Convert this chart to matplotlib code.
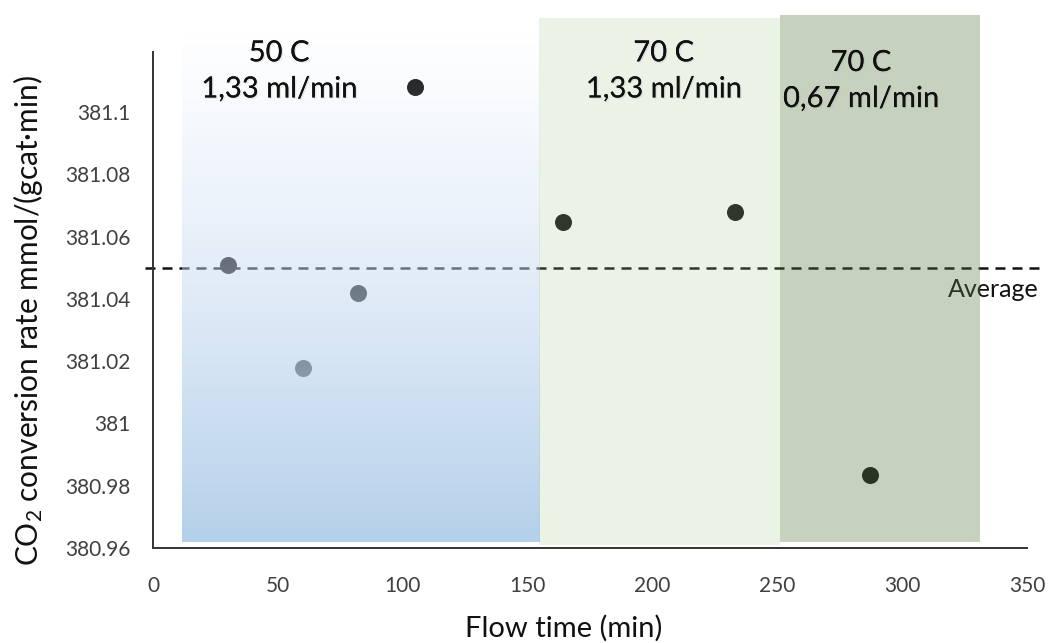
import numpy as np
import matplotlib.pyplot as plt
import matplotlib.patheffects as pe
from matplotlib.patches import Rectangle

plt.rcParams['font.family'] = ['Lato', 'DejaVu Sans']
plt.rcParams['mathtext.default'] = 'regular'

# measurements
flow_time = [30, 60, 82, 105, 164, 233, 287]
conv_rate = [381.0509, 381.0177, 381.0420, 381.1081, 381.0646, 381.0679, 380.9833]
average = 381.05

# experimental conditions (label, x start, x end)
stages = [
    ("50 C\n1,33 ml/min", 11.7, 154.7),
    ("70 C\n1,33 ml/min", 154.7, 251.0),
    ("70 C\n0,67 ml/min", 251.0, 331.2),
]
yticks = [380.96, 380.98, 381.0, 381.02, 381.04, 381.06, 381.08, 381.1]
ytick_labels = ["380.96", "380.98", "381", "381.02", "381.04", "381.06", "381.08", "381.1"]

fig = plt.figure(figsize=(10.49, 6.43), dpi=100)
ax = fig.add_axes([0.1459, 0.1477, 0.979 - 0.1459, 0.919 - 0.1477])
ax.set_xlim(0, 350)
ax.set_ylim(380.96, 381.1193)

ax.scatter(flow_time, conv_rate, s=150, color='#111111', zorder=2, linewidths=0)
ax.plot([-3.2, 357], [average, average], ls=(0, (4, 2.8)), lw=1.8, color='#111111',
        zorder=2, clip_on=False)
ax.text(354.5, average - 0.0068, "Average", ha='right', va='center', fontsize=18,
        color='#111111', zorder=2, clip_on=False)

# blue stage: vertical gradient, translucent at the top, opaque at the bottom
x0, x1 = stages[0][1], stages[0][2]
y0, y1 = 380.9618, 381.1273
n = 256
t = np.linspace(0, 1, n)[:, None]          # 0 = top, 1 = bottom
top_c = np.array([215, 228, 248]) / 255
bot_c = np.array([180, 208, 234]) / 255
rgba = np.zeros((n, 1, 4))
rgba[:, 0, :3] = top_c + (bot_c - top_c) * t
rgba[:, 0, 3] = t[:, 0] ** 0.95
ax.imshow(rgba, extent=[x0, x1, y0, y1], origin='upper', aspect='auto',
          interpolation='bilinear', zorder=3, clip_on=False)

# green stages: flat translucent overlays
ax.add_patch(Rectangle((stages[1][1], 380.9610), stages[1][2] - stages[1][1],
                       381.1303 - 380.9610, facecolor='#a2c88f', alpha=0.21,
                       lw=0, zorder=3, clip_on=False))
ax.add_patch(Rectangle((stages[2][1], 380.9620), stages[2][2] - stages[2][1],
                       381.1312 - 380.9620, facecolor='#587b43', alpha=0.34,
                       lw=0, zorder=3, clip_on=False))

shadow = [pe.withSimplePatchShadow(offset=(1, -1), shadow_rgbFace='#999999', alpha=0.2),
          pe.Normal()]
label_x = [50.5, 204.5, 283.5]
label_y = [381.1131, 381.1131, 381.1100]
for (lbl, _, _), lx, ly in zip(stages, label_x, label_y):
    ax.text(lx, ly, lbl, ha='center', va='center', fontsize=21, color='#111111',
            linespacing=1.48, zorder=4, clip_on=False, path_effects=shadow)

ax.set_xticks(np.arange(0, 351, 50))
ax.set_yticks(yticks)
ax.set_yticklabels(ytick_labels)
ax.tick_params(length=0, labelsize=15, colors='#404040')
ax.tick_params(axis='y', pad=16)
ax.tick_params(axis='x', pad=20)

for side in ['top', 'right']:
    ax.spines[side].set_visible(False)
for side in ['left', 'bottom']:
    ax.spines[side].set_color('#333333')
    ax.spines[side].set_linewidth(1.4)

fig.text(564 / 1049, 1 - 628 / 643, "Flow time (min)", fontsize=21, color='#111111',
         ha='center', va='center')
fig.text(28 / 1049, 1 - 321 / 643, "CO$_2$ conversion rate mmol/(gcat·min)", fontsize=21.5,
         color='#111111', ha='center', va='center', rotation=90)

fig.savefig("out.png", dpi=100)
